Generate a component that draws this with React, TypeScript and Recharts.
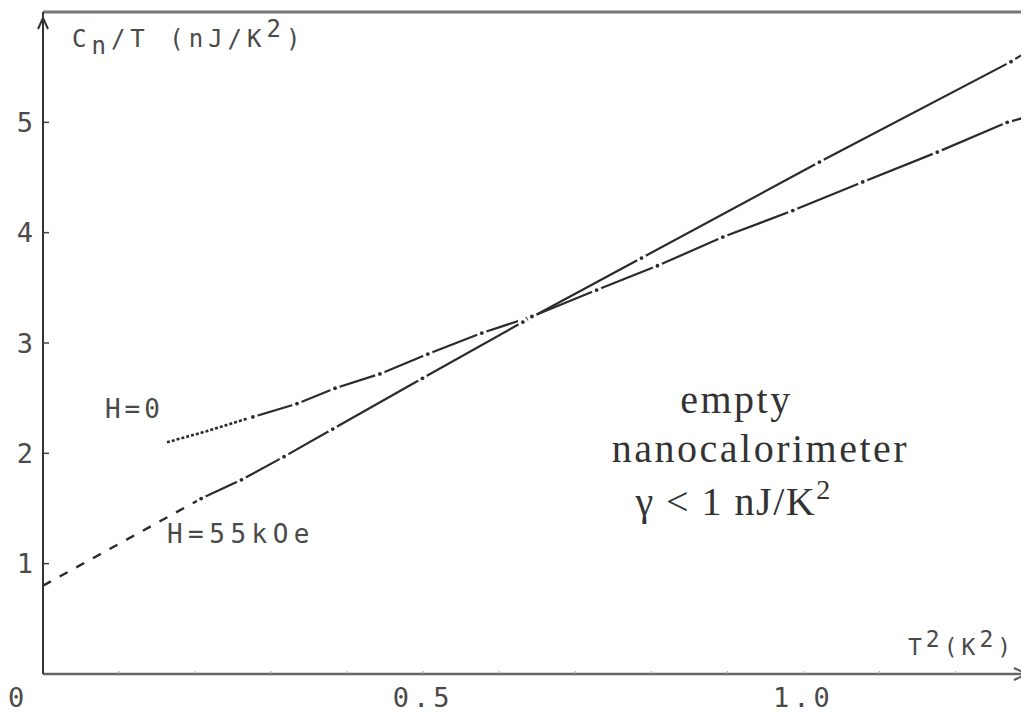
import { LineChart, Line, XAxis, YAxis, ReferenceLine, ReferenceDot } from "recharts";

// T^2 (K^2) and Cn/T (nJ/K^2)
const extrapT2 = [0, 0.208];
const extrapCn = [0.8, 1.59];

const h55T2 = [0.208, 0.261, 0.317, 0.381, 0.499, 0.631, 0.787, 1.021, 1.273, 1.294];
const h55Cn = [1.59, 1.76, 1.97, 2.22, 2.68, 3.19, 3.77, 4.64, 5.55, 5.64];

const h0StartT2 = [0.163, 0.215, 0.243, 0.276];
const h0StartCn = [2.1, 2.2, 2.26, 2.33];

const h0T2 = [0.276, 0.334, 0.384, 0.443, 0.506, 0.577, 0.643, 0.728, 0.808, 0.894, 0.986, 1.078, 1.176, 1.268, 1.294];
const h0Cn = [2.33, 2.45, 2.59, 2.72, 2.9, 3.09, 3.24, 3.48, 3.7, 3.96, 4.2, 4.46, 4.73, 5.0, 5.05];

const xTicks = [0, 0.1, 0.2, 0.3, 0.4, 0.5, 0.6, 0.7, 0.8, 0.9, 1.0, 1.1, 1.2];
const xTickLabels: Record<string, string> = { "0": "0", "0.5": "0.5", "1": "1.0" };
const yTicks = [1, 2, 3, 4, 5];

const X_MAX = 1.294;
const Y_MAX = 6;

const toRows = (xs: number[], ys: number[]) => xs.map((t2, i) => ({ t2, cn: ys[i] }));

const INK = "#2b2b2b";
const MONO = "'DejaVu Sans Mono', monospace";
const SERIF = "'Liberation Serif', 'Times New Roman', serif";

function gapDot(lastIndex: number) {
  return (p: any) => {
    if (p.index === lastIndex) return <g key={`d${p.index}`} />;
    return (
      <g key={`d${p.index}`}>
        <circle cx={p.cx} cy={p.cy} r={5} fill="#fff" />
        <circle cx={p.cx} cy={p.cy} r={1.9} fill={INK} />
      </g>
    );
  };
}

function XTick(p: any) {
  const label = xTickLabels[String(p.payload.value)];
  if (!label) return <g />;
  const dx = p.payload.value === 0 ? -25 : 0;
  return (
    <text x={p.x + dx} y={p.y} dy="0.71em" textAnchor="middle" fontFamily={MONO} fontSize={27} fill="#4a4a4a" letterSpacing={4}>
      {label}
    </text>
  );
}

function YTick(p: any) {
  return (
    <text x={p.x} y={p.y} dy="0.36em" textAnchor="end" fontFamily={MONO} fontSize={27} fill="#4a4a4a">
      {p.payload.value}
    </text>
  );
}

export default function App() {
  return (
    <div style={{ width: 1021, height: 704 }}>
      <LineChart width={1021} height={704} margin={{ top: 4, right: 2, bottom: 0, left: 0 }}>
        <XAxis
          type="number"
          dataKey="t2"
          domain={[0, X_MAX]}
          allowDataOverflow
          ticks={xTicks}
          height={38}
          tickSize={-3}
          tickMargin={17}
          axisLine={{ stroke: "#666", strokeWidth: 2.5 }}
          tickLine={{ stroke: "#aaa" }}
          tick={<XTick />}
        />
        <YAxis
          type="number"
          dataKey="cn"
          domain={[0, Y_MAX]}
          allowDataOverflow
          ticks={yTicks}
          width={35}
          tickSize={-6}
          tickMargin={16}
          axisLine={{ stroke: "#333", strokeWidth: 2 }}
          tickLine={{ stroke: "#444", strokeWidth: 1.5 }}
          tick={<YTick />}
        />
        <ReferenceLine y={Y_MAX} stroke="#777" strokeWidth={3} />
        <ReferenceLine x={X_MAX} stroke="#444" strokeWidth={2} />

        <Line data={toRows(extrapT2, extrapCn)} dataKey="cn" stroke={INK} strokeWidth={2.4} strokeDasharray="9 10" dot={false} isAnimationActive={false} />
        <Line data={toRows(h55T2, h55Cn)} dataKey="cn" stroke={INK} strokeWidth={2.2} dot={gapDot(h55T2.length - 1)} isAnimationActive={false} />
        <Line data={toRows(h0StartT2, h0StartCn)} dataKey="cn" stroke={INK} strokeWidth={2.6} strokeDasharray="3 2" dot={false} isAnimationActive={false} />
        <Line data={toRows(h0T2, h0Cn)} dataKey="cn" stroke={INK} strokeWidth={2.2} dot={gapDot(h0T2.length - 1)} isAnimationActive={false} />

        {/* axis arrows */}
        <ReferenceDot
          x={0}
          y={Y_MAX}
          r={0}
          shape={(p: any) => (
            <path d={`M${p.cx - 5} ${p.cy + 17} L${p.cx} ${p.cy + 6} L${p.cx + 5} ${p.cy + 17}`} stroke="#333" strokeWidth={2} fill="none" />
          )}
        />
        <ReferenceDot
          x={X_MAX}
          y={0}
          r={0}
          shape={(p: any) => (
            <path d={`M${p.cx - 13} ${p.cy - 6} L${p.cx} ${p.cy} L${p.cx - 13} ${p.cy + 6}`} stroke="#555" strokeWidth={2} fill="none" />
          )}
        />

        {/* labels */}
        <ReferenceDot
          x={0}
          y={Y_MAX}
          r={0}
          shape={(p: any) => (
            <text x={p.cx + 29} y={p.cy + 35} fontFamily={MONO} fontSize={24} fill="#4a4a4a" letterSpacing={5}>
              C<tspan dy={7}>n</tspan>
              <tspan dy={-7}>/T  (nJ/K</tspan>
              <tspan dy={-10}>2</tspan>
              <tspan dy={10}>)</tspan>
            </text>
          )}
        />
        <ReferenceDot
          x={1.1375}
          y={0.172}
          r={0}
          shape={(p: any) => (
            <text x={p.cx} y={p.cy} fontFamily={MONO} fontSize={23} fill="#4a4a4a" letterSpacing={4}>
              T<tspan dy={-8}>2</tspan>
              <tspan dy={8}>(K</tspan>
              <tspan dy={-8}>2</tspan>
              <tspan dy={8}>)</tspan>
            </text>
          )}
        />
        <ReferenceDot
          x={0.0815}
          y={2.32}
          r={0}
          shape={(p: any) => (
            <text x={p.cx} y={p.cy} fontFamily={MONO} fontSize={26} fill="#4a4a4a" letterSpacing={4}>
              H=0
            </text>
          )}
        />
        <ReferenceDot
          x={0.163}
          y={1.187}
          r={0}
          shape={(p: any) => (
            <text x={p.cx} y={p.cy} fontFamily={MONO} fontSize={26} fill="#4a4a4a" letterSpacing={5.5}>
              H=55kOe
            </text>
          )}
        />
        <ReferenceDot
          x={0.838}
          y={2.364}
          r={0}
          shape={(p: any) => (
            <text x={p.cx} y={p.cy} fontFamily={SERIF} fontSize={40} fill="#333" letterSpacing={2.5}>
              empty
            </text>
          )}
        />
        <ReferenceDot
          x={0.748}
          y={1.92}
          r={0}
          shape={(p: any) => (
            <text x={p.cx} y={p.cy} fontFamily={SERIF} fontSize={40} fill="#333" letterSpacing={2.5}>
              nanocalorimeter
            </text>
          )}
        />
        <ReferenceDot
          x={0.779}
          y={1.44}
          r={0}
          shape={(p: any) => (
            <text x={p.cx} y={p.cy} fontFamily={SERIF} fontSize={40} fill="#333" letterSpacing={1.5}>
              γ &lt; 1 nJ/K<tspan dy={-16} fontSize={28}>2</tspan>
            </text>
          )}
        />
      </LineChart>
    </div>
  );
}
